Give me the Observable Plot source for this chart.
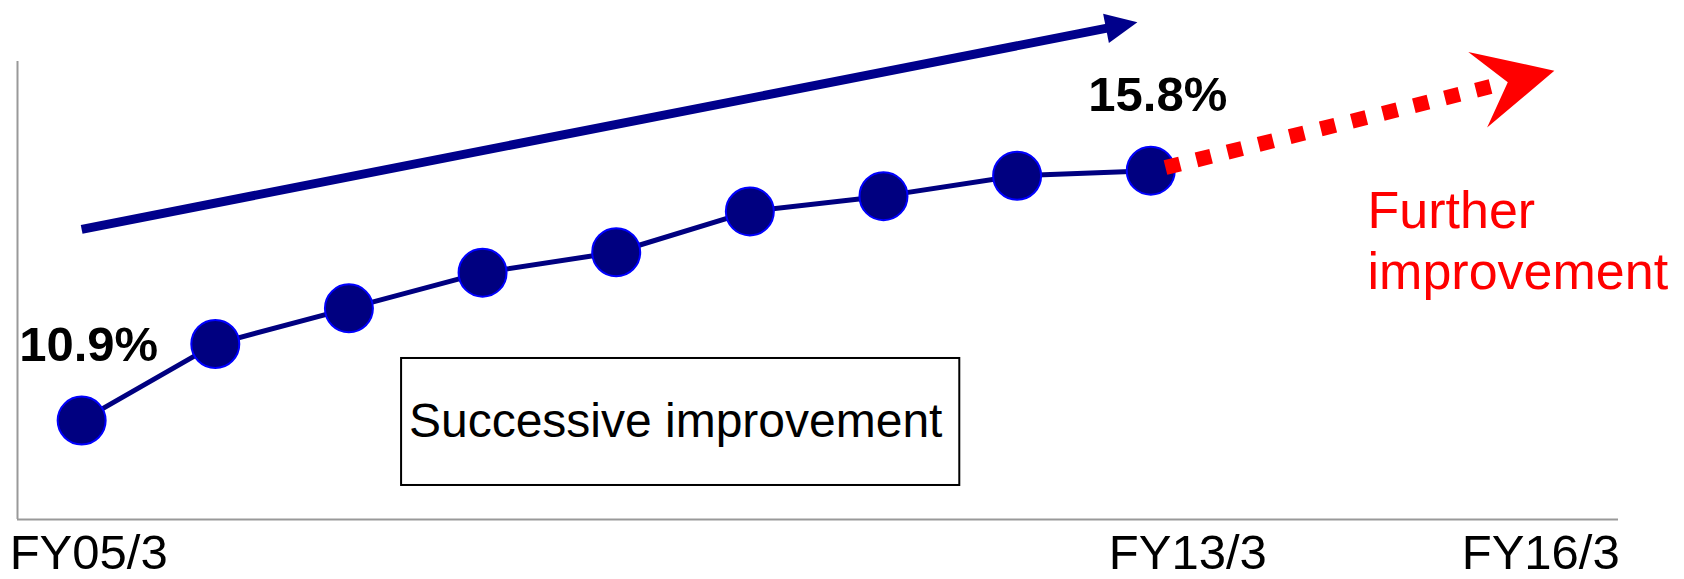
<!DOCTYPE html>
<html><head><meta charset="utf-8">
<script src="https://cdn.jsdelivr.net/npm/d3@7"></script>
<script src="https://cdn.jsdelivr.net/npm/@observablehq/plot@0.6"></script>
<style>html,body{margin:0;padding:0;background:#fff;} #chart svg{display:block}</style>
</head><body><div id="chart"></div>
<script>
// ---- data ----
const years = [2005, 2006, 2007, 2008, 2009, 2010, 2011, 2012, 2013];
const values = [10.9, 12.4, 13.1, 13.8, 14.2, 15.0, 15.3, 15.7, 15.8];
const tickYears = [2005, 2013, 2016];
const tickLabels = ["FY05/3", "FY13/3", "FY16/3"];
const boxLabel = "Successive improvement";
const outlookLabel = "Further\nimprovement";

// ---- annotation geometry (data units) ----
const trendStart = [2005.0, 14.65], trendTip = [2012.9, 18.71];
const outlookStart = [2013.11, 15.86], outlookTip = [2016.02, 17.76];
const boxX = [2007.394, 2011.571], boxY = [9.627, 12.117];
const outlookTextAt = [2014.622, 13.47];

// ---- layout ----
const W = 1684, H = 579, M = {top: 61, right: 66, bottom: 60, left: 17};
const xDomain = [2004.52, 2016.5], yDomain = [8.96, 17.94];
const FONT = "'Liberation Sans', Arial, Helvetica, sans-serif";
const tickDx = [7, 37, -11];

const data = years.map((year, i) => ({year, value: values[i]}));
const ends = [data[0], data[data.length - 1]];

const xs = Plot.scale({x: {domain: xDomain, range: [M.left, W - M.right]}});
const ys = Plot.scale({y: {domain: yDomain, range: [H - M.bottom, M.top]}});

function arrowGeom(from, to, back) {
  const x0 = xs.apply(from[0]), y0 = ys.apply(from[1]);
  const x1 = xs.apply(to[0]), y1 = ys.apply(to[1]);
  const len = Math.hypot(x1 - x0, y1 - y0);
  const angle = Math.atan2(y1 - y0, x1 - x0) * 180 / Math.PI;
  const t = 1 - back / len;
  return {angle, end: [from[0] + (to[0] - from[0]) * t, from[1] + (to[1] - from[1]) * t]};
}
const blueHead = {draw(ctx) { ctx.moveTo(0, 0); ctx.lineTo(-32, -15); ctx.lineTo(-32, 15); ctx.closePath(); }};
const redHead = {draw(ctx) { ctx.moveTo(0, 0); ctx.lineTo(-79, -39); ctx.lineTo(-48, 0); ctx.lineTo(-79, 39); ctx.closePath(); }};

const trend = arrowGeom(trendStart, trendTip, 14);
const outlook = arrowGeom(outlookStart, outlookTip, 50);

const tickMarks = tickYears.map((yr, i) => Plot.text([tickLabels[i]], {
  x: () => yr, frameAnchor: "bottom", dy: 49, dx: tickDx[i], text: d => d,
  lineAnchor: "bottom", textAnchor: "middle", fontSize: 49, fill: "black", fontFamily: FONT
}));

const chart = Plot.plot({
  width: W, height: H,
  marginTop: M.top, marginRight: M.right, marginBottom: M.bottom, marginLeft: M.left,
  x: {domain: xDomain, axis: null},
  y: {domain: yDomain, axis: null},
  style: {fontFamily: FONT, background: "white", overflow: "visible"},
  marks: [
    Plot.ruleX([xDomain[0]], {stroke: "#999", strokeWidth: 2}),
    Plot.ruleY([yDomain[0]], {stroke: "#999", strokeWidth: 2}),
    // trend arrow
    Plot.link([0], {x1: () => trendStart[0], y1: () => trendStart[1], x2: () => trend.end[0], y2: () => trend.end[1],
      stroke: "#00008b", strokeWidth: 9}),
    Plot.dot([0], {x: () => trendTip[0], y: () => trendTip[1], symbol: blueHead, r: 10, rotate: trend.angle,
      fill: "#00008b", stroke: "none"}),
    // box
    Plot.rect([0], {x1: () => boxX[0], x2: () => boxX[1], y1: () => boxY[0], y2: () => boxY[1],
      fill: "white", stroke: "black", strokeWidth: 2}),
    Plot.text([boxLabel], {x: () => (boxX[0] + boxX[1]) / 2, y: () => (boxY[0] + boxY[1]) / 2, text: d => d,
      dx: -5, fontSize: 48, fill: "black", textAnchor: "middle", lineAnchor: "middle", fontFamily: FONT}),
    // series
    Plot.line(data, {x: "year", y: "value", stroke: "#000080", strokeWidth: 5}),
    Plot.dot(data, {x: "year", y: "value", r: 24, fill: "#000080", stroke: "#0000ff", strokeWidth: 2}),
    // outlook arrow
    Plot.link([0], {x1: () => outlookStart[0], y1: () => outlookStart[1], x2: () => outlook.end[0], y2: () => outlook.end[1],
      stroke: "#ff0000", strokeWidth: 15, strokeDasharray: "15 17", strokeLinecap: "butt"}),
    Plot.dot([0], {x: () => outlookTip[0], y: () => outlookTip[1], symbol: redHead, r: 10, rotate: outlook.angle,
      fill: "#ff0000", stroke: "none"}),
    // labels
    Plot.text(ends, {x: "year", y: "value", text: d => d.value.toFixed(1) + "%", dx: 7, dy: -60,
      fontSize: 49, fontWeight: "bold", fill: "black", textAnchor: "middle", lineAnchor: "bottom", fontFamily: FONT}),
    Plot.text([outlookLabel], {x: () => outlookTextAt[0], y: () => outlookTextAt[1], text: d => d,
      fontSize: 52, fill: "#ff0000", textAnchor: "start", lineAnchor: "bottom", lineHeight: 1.19, fontFamily: FONT}),
    ...tickMarks
  ]
});
document.getElementById("chart").appendChild(chart);
</script>
</body></html>
